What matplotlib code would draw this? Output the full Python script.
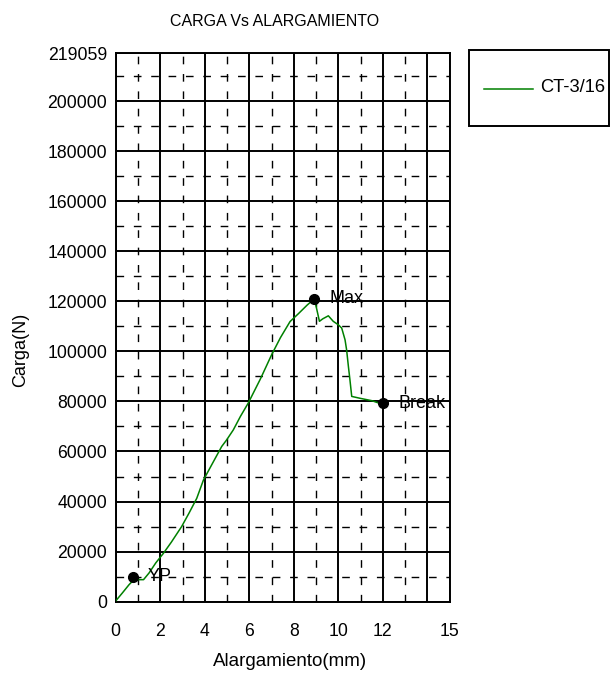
import matplotlib
matplotlib.use("Agg")
import matplotlib.pyplot as plt
from matplotlib.patches import Rectangle
from matplotlib.lines import Line2D

plt.rcParams['font.family'] = ['Liberation Sans', 'DejaVu Sans']

# curva carga vs alargamiento
alarg = [0, 0.3, 0.6, 0.8, 1.0, 1.25, 1.5, 1.8, 2.14, 2.5, 2.96, 3.3, 3.64,
         3.94, 4.3, 4.76, 4.98, 5.28, 5.6, 5.95, 6.5, 7.0, 7.4, 7.83, 8.2,
         8.6, 8.87, 8.95, 9.05, 9.15, 9.3, 9.55, 9.77, 10.0, 10.15, 10.3,
         10.37, 10.45, 10.52, 10.6, 11.0, 11.5, 12.0]
carga = [300, 3500, 6800, 8600, 8800, 8800, 11500, 15500, 19300, 23800,
         30000, 35500, 41300, 48600, 54500, 62000, 64600, 68600, 74000,
         79300, 89000, 98600, 105500, 111900, 115000, 118500, 120600,
         120000, 116000, 112000, 113000, 114200, 112000, 110600, 109300,
         104600, 100600, 94000, 88600, 82000, 81200, 80300, 78800]

puntos = ["YP", "Max", "Break"]
puntos_x = [0.76, 8.9, 12.02]
puntos_y = [10000, 121000, 79300]

x_ticks = [0, 2, 4, 6, 8, 10, 12, 14, 15]
x_labels = ["0", "2", "4", "6", "8", "10", "12", "", "15"]
y_max = 219059
y_ticks = list(range(0, 200001, 20000)) + [y_max]
y_minor = list(range(10000, 210001, 20000))
x_minor = list(range(1, 14, 2))

fig = plt.figure(figsize=(6.1, 6.8), dpi=100)
ax = fig.add_axes([115.7 / 610, 1 - 601.7 / 680, 334 / 610, 548.4 / 680])

ax.plot(alarg, carga, color="green", lw=1.1, zorder=3)
ax.plot(puntos_x, puntos_y, "o", color="black", ms=7, zorder=4)
for nombre, px, py in zip(puntos, puntos_x, puntos_y):
    ax.annotate(nombre, (px, py), xytext=(11, 0), textcoords="offset points",
                va="center", ha="left", fontsize=13, zorder=5)

ax.set_xlim(0, 15)
ax.set_ylim(0, y_max)
ax.set_xticks(x_ticks)
ax.set_xticklabels(x_labels)
ax.set_xticks(x_minor, minor=True)
ax.set_yticks(y_ticks)
ax.set_yticks(y_minor, minor=True)
ax.tick_params(which="both", length=0, labelsize=12.7)
ax.tick_params(axis="x", pad=15)
ax.tick_params(axis="y", pad=6)
ax.grid(which="major", color="black", lw=1.4, zorder=1)
ax.grid(which="minor", color="black", lw=1.0, linestyle=(0, (5.5, 7)), zorder=1)
for s in ax.spines.values():
    s.set_linewidth(1.4)

fig.text(275 / 610, 1 - 21.5 / 680, "CARGA Vs ALARGAMIENTO", ha="center",
         va="center", fontsize=11.5)
fig.text(290 / 610, 1 - 662 / 680, "Alargamiento(mm)", ha="center",
         va="center", fontsize=13.5)
fig.text(21 / 610, 1 - 350 / 680, "Carga(N)", ha="center", va="center",
         rotation=90, fontsize=13)

# leyenda
fig.patches.append(Rectangle((468.5 / 610, 1 - 126 / 680), 140.5 / 610, 76 / 680,
                             transform=fig.transFigure, fill=False,
                             edgecolor="black", lw=1.4))
fig.lines.append(Line2D([484 / 610, 533 / 610], [1 - 89 / 680, 1 - 89 / 680],
                        transform=fig.transFigure, color="green", lw=1.1))
fig.text(540 / 610, 1 - 88 / 680, "CT-3/16", ha="left", va="center", fontsize=13.2)

fig.savefig("out.png", dpi=100)
